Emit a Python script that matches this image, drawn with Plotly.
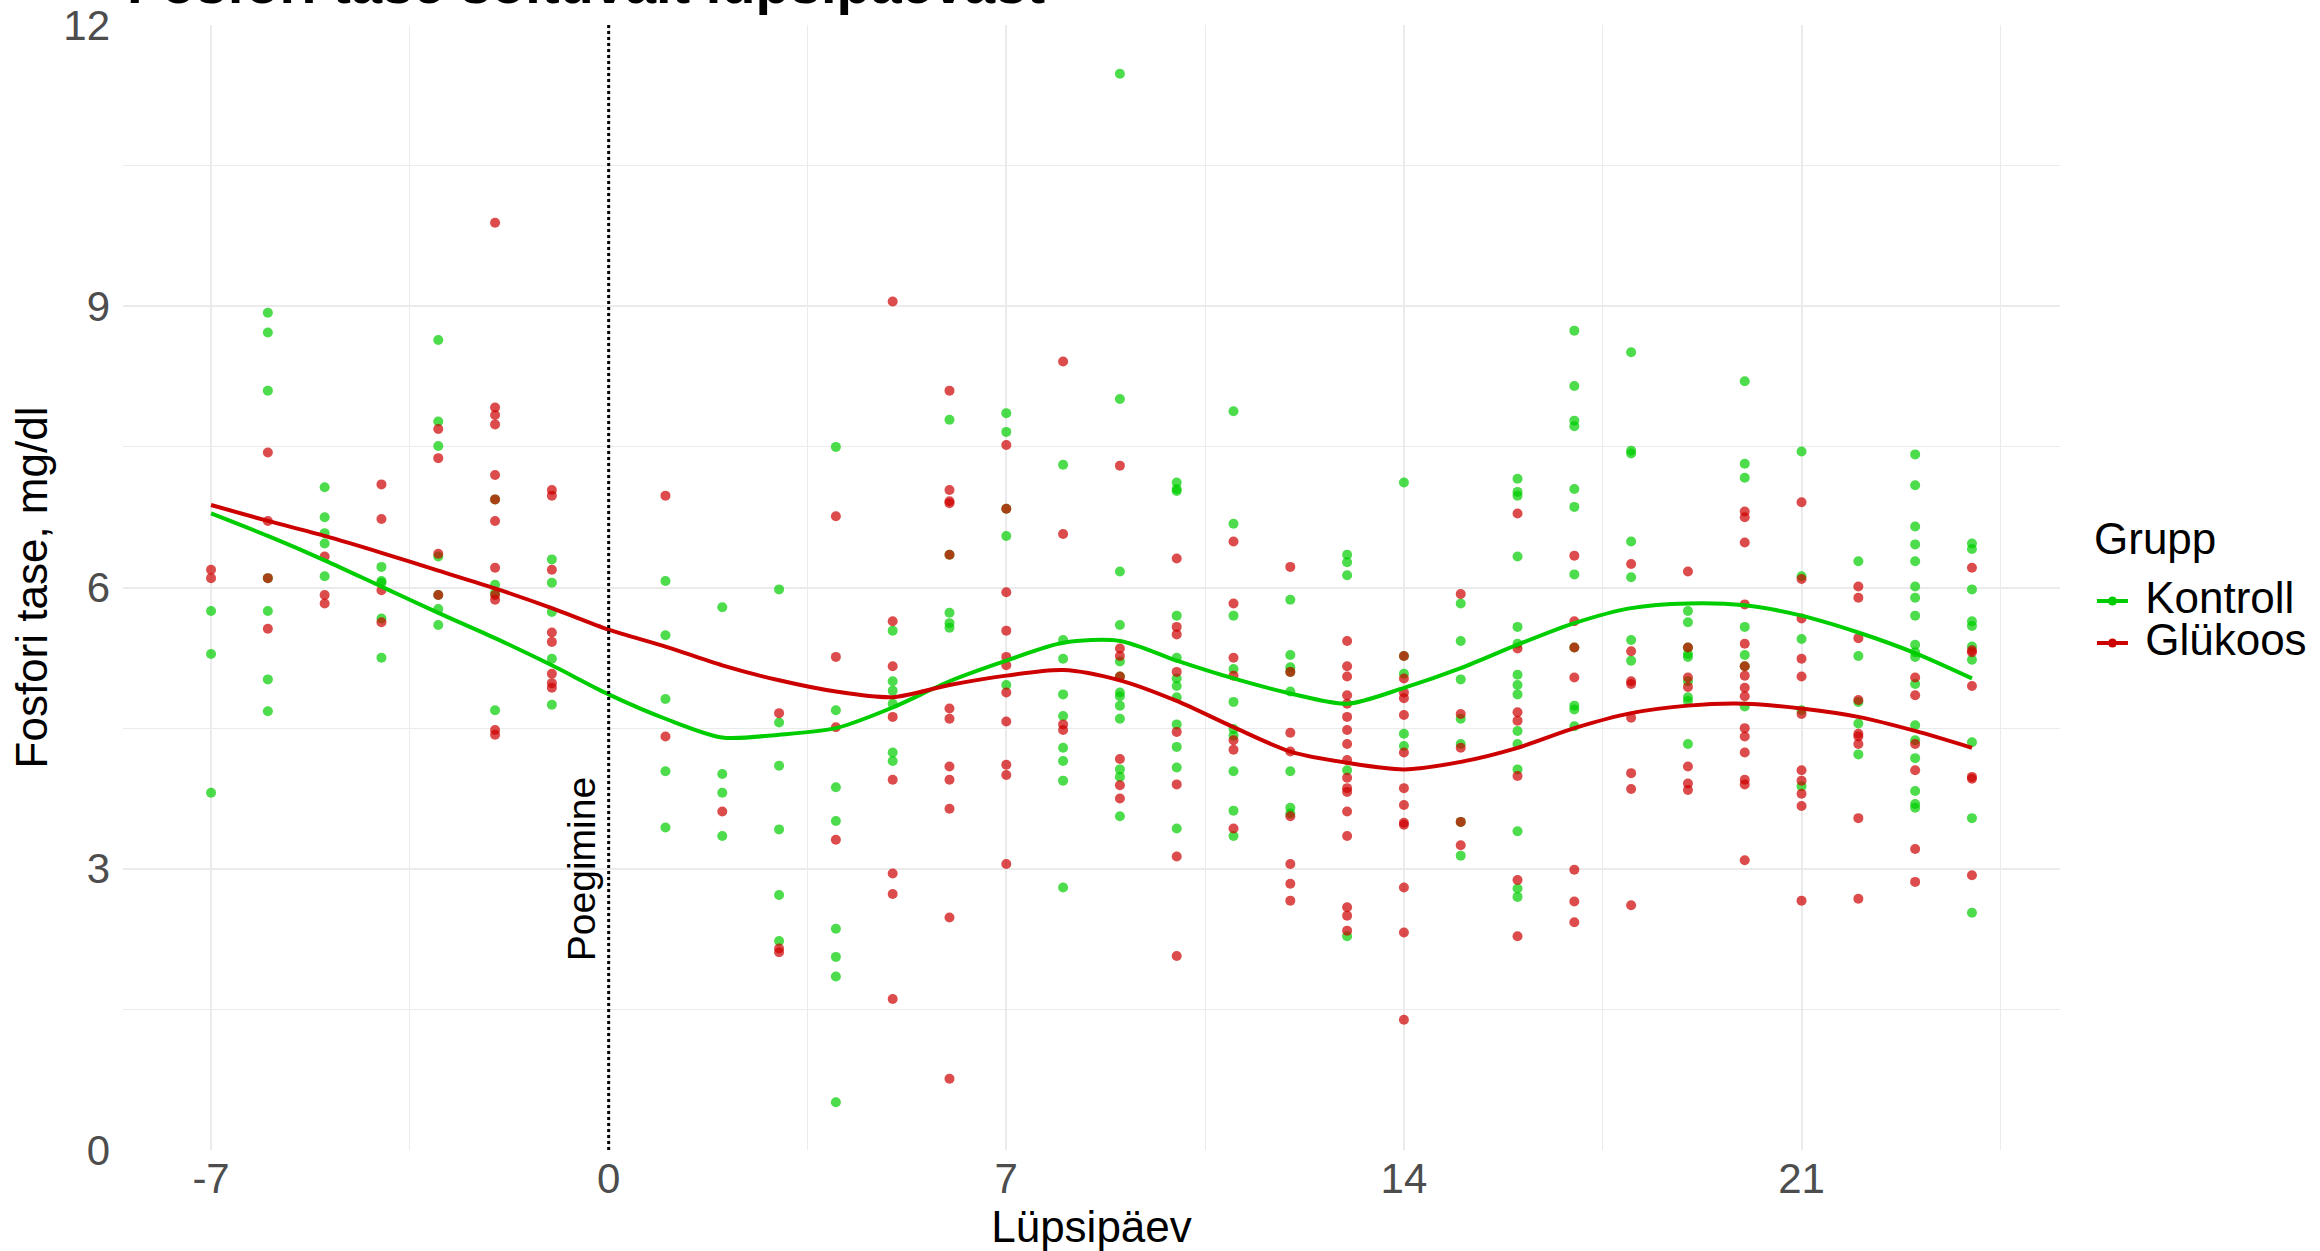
import plotly.graph_objects as go

# ---------------- data ----------------
days = [-7, -6, -5, -4, -3, -2, -1, 1, 2, 3, 4, 5, 6, 7, 8, 9, 10, 11, 12,
        13, 14, 15, 16, 17, 18, 19, 20, 21, 22, 23, 24]

kontroll_values = [
    [5.75, 5.29, 3.81],
    [8.93, 8.72, 8.10, 6.10, 5.75, 5.02, 4.68],
    [7.07, 6.75, 6.58, 6.47, 6.12],
    [6.22, 6.07, 6.05, 5.67, 5.25],
    [8.64, 7.77, 7.51, 6.33, 5.92, 5.77, 5.60],
    [6.94, 6.03, 5.94, 4.69],
    [6.30, 6.05, 5.74, 5.24, 4.75],
    [6.07, 5.49, 4.81, 4.04, 3.44],
    [5.79, 4.01, 3.81, 3.35],
    [5.98, 4.56, 4.10, 3.42, 2.72, 2.23],
    [7.50, 4.69, 3.87, 3.51, 2.36, 2.06, 1.85, 0.51],
    [5.54, 5.00, 4.90, 4.76, 4.24, 4.15],
    [7.79, 6.35, 5.73, 5.62, 5.57],
    [7.86, 7.66, 6.84, 6.55, 4.96],
    [7.31, 5.44, 5.24, 4.86, 4.63, 4.29, 4.15, 3.94, 2.80],
    [11.48, 8.01, 6.17, 5.60, 5.21, 5.05, 4.88, 4.84, 4.74, 4.60, 4.06, 3.98, 3.56],
    [7.12, 7.05, 7.03, 5.70, 5.25, 5.03, 4.95, 4.83, 4.54, 4.30, 4.08, 3.43],
    [7.88, 6.68, 5.70, 5.13, 4.78, 4.49, 4.42, 4.04, 3.62, 3.35],
    [5.87, 5.28, 5.15, 5.10, 4.89, 4.04, 3.65, 3.59],
    [6.35, 6.27, 6.13, 4.05, 2.28],
    [7.12, 5.27, 5.08, 4.44, 4.31],
    [5.83, 5.43, 5.02, 4.60, 4.33, 3.50, 3.14],
    [7.16, 7.02, 6.98, 6.33, 5.58, 5.40, 5.07, 4.96, 4.86, 4.47, 4.33, 4.06, 3.40, 2.79, 2.70],
    [8.74, 8.15, 7.78, 7.72, 7.05, 6.86, 6.14, 5.36, 4.74, 4.70, 4.52],
    [8.51, 7.46, 7.43, 6.49, 6.11, 5.44, 5.22],
    [5.75, 5.63, 5.36, 5.29, 5.26, 5.00, 4.83, 4.79, 4.33],
    [8.20, 7.32, 7.17, 5.58, 5.28, 5.16, 4.73],
    [7.45, 6.12, 5.45, 4.69, 3.88],
    [6.28, 5.27, 4.78, 4.55, 4.22],
    [7.42, 7.09, 6.65, 6.46, 6.28, 6.01, 5.89, 5.70, 5.39, 5.31, 5.26, 4.97, 4.53, 4.37, 4.18, 3.83, 3.69, 3.65],
    [6.47, 6.41, 5.98, 5.64, 5.59, 5.37, 5.23, 4.35, 3.54, 2.53],
]

glukoos_values = [
    [6.19, 6.10],
    [7.44, 6.71, 6.10, 5.56],
    [6.33, 5.92, 5.83],
    [7.10, 6.73, 5.97, 5.63],
    [7.69, 7.38, 6.36, 5.92],
    [9.89, 7.92, 7.84, 7.74, 7.20, 6.94, 6.71, 6.21, 5.92, 5.87, 4.48, 4.43],
    [7.04, 6.98, 6.19, 5.52, 5.42, 5.08, 4.98, 4.93],
    [6.98, 4.41],
    [3.61],
    [4.66, 2.15, 2.11],
    [6.76, 5.26, 4.51, 3.31],
    [9.05, 5.64, 5.16, 4.62, 3.95, 2.95, 2.73, 1.61],
    [8.10, 7.04, 6.92, 6.90, 6.35, 4.71, 4.60, 4.09, 3.95, 3.64, 2.48, 0.76],
    [7.52, 6.84, 5.95, 5.54, 5.26, 5.17, 4.88, 4.57, 4.11, 4.00, 3.05],
    [8.41, 6.57, 4.54, 4.48],
    [7.30, 5.35, 5.27, 5.05, 4.17, 3.89, 3.75],
    [6.31, 5.58, 5.50, 5.10, 4.46, 3.90, 3.13, 2.07],
    [6.49, 5.83, 5.25, 5.06, 4.37, 4.27, 3.43],
    [6.22, 5.10, 4.45, 4.25, 3.56, 3.05, 2.84, 2.66],
    [5.43, 5.16, 5.05, 4.85, 4.76, 4.62, 4.48, 4.33, 4.16, 3.97, 3.86, 3.82, 3.61, 3.35, 2.59, 2.50, 2.34],
    [5.27, 5.03, 4.88, 4.82, 4.64, 4.24, 3.86, 3.68, 3.49, 3.47, 2.80, 2.32, 1.39],
    [5.93, 4.65, 4.29, 3.50, 3.25],
    [6.79, 5.35, 4.67, 4.58, 3.99, 2.88, 2.28],
    [6.34, 5.64, 5.36, 5.04, 2.99, 2.65, 2.43],
    [6.25, 5.32, 5.00, 4.97, 4.61, 4.02, 3.85, 2.61],
    [6.17, 5.36, 5.04, 4.94, 4.09, 3.91, 3.84],
    [6.81, 6.75, 6.48, 5.82, 5.40, 5.16, 5.06, 4.93, 4.84, 4.50, 4.41, 4.24, 3.95, 3.90, 3.09],
    [6.91, 6.09, 5.67, 5.24, 5.05, 4.65, 4.05, 3.94, 3.80, 3.67, 2.66],
    [6.01, 5.89, 5.46, 4.80, 4.44, 4.41, 4.33, 3.54, 2.68],
    [5.04, 4.85, 4.33, 4.05, 3.21, 2.86],
    [6.21, 5.33, 5.31, 4.95, 3.98, 3.96, 2.93],
]

# smoothed (loess) curves
smooth_days = [-7, -6, -5, -4, -3, -2, -1, 0, 1, 2, 3, 4, 5, 6, 7, 8, 9, 10,
               11, 12, 13, 14, 15, 16, 17, 18, 19, 20, 21, 22, 23, 24]
kontroll_smooth = [6.79, 6.55, 6.29, 6.01, 5.73, 5.46, 5.17, 4.86, 4.60, 4.40,
                   4.43, 4.50, 4.72, 5.00, 5.22, 5.41, 5.43, 5.22, 5.03, 4.87,
                   4.76, 4.93, 5.14, 5.39, 5.62, 5.78, 5.83, 5.81, 5.70, 5.52,
                   5.30, 5.03]
glukoos_smooth = [6.88, 6.71, 6.55, 6.37, 6.18, 5.99, 5.78, 5.55, 5.37, 5.17,
                  5.01, 4.89, 4.83, 4.96, 5.06, 5.12, 5.01, 4.79, 4.51, 4.25,
                  4.13, 4.06, 4.14, 4.29, 4.50, 4.66, 4.74, 4.76, 4.71, 4.62,
                  4.47, 4.29]

group_names = ["Kontroll", "Glükoos"]
legend_title = "Grupp"
calving_day = 0
calving_label = "Poegimine"
calving_label_y = 3

x_ticks = [-7, 0, 7, 14, 21]
x_ticktext = ["-7", "0", "7", "14", "21"]
x_minor = [-3.5, 3.5, 10.5, 17.5, 24.5]
y_ticks = [0, 3, 6, 9, 12]
y_minor = [1.5, 4.5, 7.5, 10.5]

title_text = "Fosfori tase sõltuvalt lüpsipäevast"

# ---------------- style ----------------
FONT = "Liberation Sans, Arial, Helvetica, sans-serif"
GREEN = "#00CD00"
RED = "#CD0000"
GREEN_PT = "rgba(0,205,0,0.7)"
RED_PT = "rgba(205,0,0,0.7)"
GRID = "#ebebeb"


def flatten(values):
    xs, ys = [], []
    for d, vals in zip(days, values):
        for v in vals:
            xs.append(d)
            ys.append(v)
    return xs, ys


kx, ky = flatten(kontroll_values)
gx, gy = flatten(glukoos_values)

fig = go.Figure()

fig.add_trace(go.Scatter(x=kx, y=ky, mode="markers", showlegend=False,
                         marker=dict(color=GREEN_PT, size=10, line=dict(width=0)),
                         hoverinfo="skip"))
fig.add_trace(go.Scatter(x=gx, y=gy, mode="markers", showlegend=False,
                         marker=dict(color=RED_PT, size=10, line=dict(width=0)),
                         hoverinfo="skip"))

fig.add_trace(go.Scatter(x=smooth_days, y=kontroll_smooth, mode="lines",
                         line=dict(color=GREEN, width=4, shape="spline", smoothing=0.8),
                         showlegend=False))
fig.add_trace(go.Scatter(x=smooth_days, y=glukoos_smooth, mode="lines",
                         line=dict(color=RED, width=4, shape="spline", smoothing=0.8),
                         showlegend=False))

# legend entries (text drawn at 44px, row height from 30px legend font)
for name, col in zip(group_names, [GREEN, RED]):
    fig.add_trace(go.Scatter(x=[None], y=[None], mode="lines+markers",
                             name='<span style="font-size:44px">\u00a0' + name + '</span>',
                             line=dict(color=col, width=4),
                             marker=dict(color=col, size=9)))

fig.add_shape(type="line", xref="x", yref="paper", x0=calving_day, x1=calving_day,
              y0=0, y1=1, line=dict(color="black", width=3, dash="dot"), layer="above")

fig.add_annotation(x=calving_day - 0.48, y=calving_label_y, xref="x", yref="y",
                   text=calving_label, textangle=-90, showarrow=False,
                   font=dict(family=FONT, size=39, color="black"))

fig.add_annotation(x=0.001, y=1.0, xref="paper", yref="paper", xanchor="left",
                   yanchor="bottom", yshift=8, text="<b>" + title_text + "</b>",
                   showarrow=False, font=dict(family=FONT, size=56, color="black"))

# legend title
fig.add_annotation(x=1.0165, y=0.544, xref="paper", yref="paper", xanchor="left",
                   yanchor="middle", text=legend_title, showarrow=False,
                   font=dict(family=FONT, size=44, color="black"))

fig.update_layout(
    width=2320, height=1251,
    margin=dict(l=123, r=260, t=25, b=101, autoexpand=False),
    paper_bgcolor="white", plot_bgcolor="white",
    font=dict(family=FONT, color="black"),
    legend=dict(x=1.0165, y=0.5111, xanchor="left", yanchor="top",
                font=dict(family=FONT, size=30, color="black"),
                bgcolor="rgba(0,0,0,0)", itemwidth=31),
    xaxis=dict(range=[-8.55, 25.55], tickvals=x_ticks, ticktext=x_ticktext,
               showgrid=True, gridcolor=GRID, gridwidth=2.2, zeroline=False,
               showline=False, ticks="", tickfont=dict(family=FONT, size=42, color="#4d4d4d"),
               minor=dict(tickvals=x_minor, showgrid=True, gridcolor=GRID, gridwidth=1.1),
               title=dict(text="Lüpsipäev", font=dict(family=FONT, size=44, color="black"),
                          standoff=8),
               automargin=False),
    yaxis=dict(range=[0, 12], tickvals=y_ticks,
               showgrid=True, gridcolor=GRID, gridwidth=2.2, zeroline=False,
               showline=False, ticks="", ticklabelstandoff=12,
               tickfont=dict(family=FONT, size=42, color="#4d4d4d"),
               minor=dict(tickvals=y_minor, showgrid=True, gridcolor=GRID, gridwidth=1.1),
               title=dict(text="Fosfori tase, mg/dl", font=dict(family=FONT, size=44, color="black"),
                          standoff=1),
               automargin=False),
)

fig.write_html("out.html", config={"displayModeBar": False},
               post_script="document.body.style.margin='0px';")
